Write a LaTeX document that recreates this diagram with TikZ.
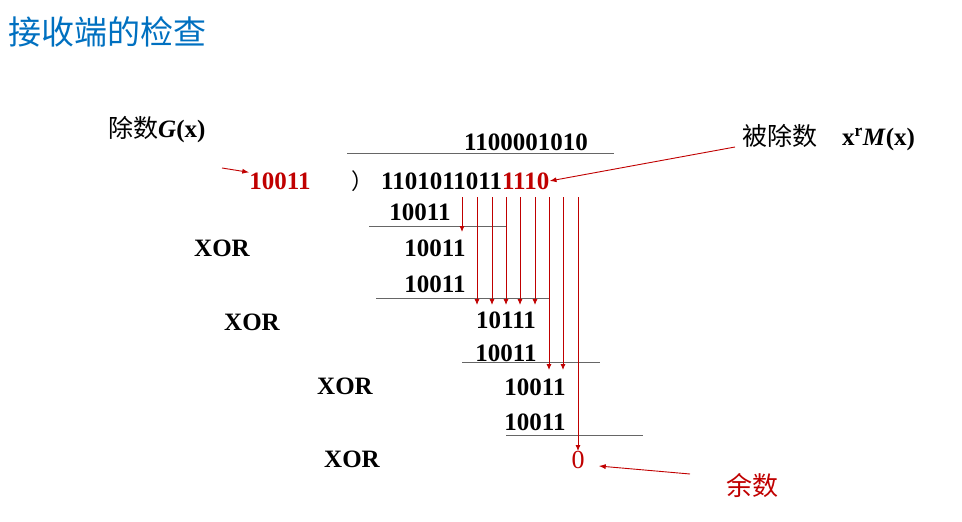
\documentclass[tikz,border=0pt]{standalone}
\usepackage{fontspec}
\setmainfont{Liberation Serif}
\newfontfamily\cjk{Noto Sans CJK SC}
\definecolor{dred}{RGB}{192,0,0}
\definecolor{tblue}{RGB}{0,112,192}
\begin{document}
\begin{tikzpicture}[x=1pt,y=-1pt,
  num/.style={font=\fontsize{25}{25}\selectfont\bfseries,inner sep=0pt},
  rule/.style={draw=gray!80!black,line width=1pt},
  drop/.style={draw=dred,line width=0.9pt,-{Latex[length=6pt,width=5pt]}},
  pt/.style={draw=dred,line width=0.9pt,-{Latex[length=7pt,width=5pt]}}]
\usetikzlibrary{arrows.meta}
\useasboundingbox (0,0) rectangle (962,522);
\node[anchor=west,inner sep=0pt,text=tblue,font=\cjk\fontsize{33}{33}\selectfont] (title) at (8,32) {接收端的检查};
\node[anchor=west,inner sep=0pt,font=\fontsize{25}{25}\selectfont] (g) at (108,130) {{\cjk 除数}\textbf{\textit{G}(x)}};
\node[num,text=dred] (div) at (280,181) {10011};
\node[inner sep=0pt,font=\cjk\fontsize{22}{22}\selectfont] (par) at (362,181) {）};
\node[num,anchor=east] (q) at (588,142) {1100001010};
\node[num,anchor=west] (d) at (381,181) {1101011011\textcolor{dred}{1110}};
\node[num] (r1) at (420,212) {10011};
\node[num] (r2) at (435,248) {10011};
\node[num] (r3) at (435,284) {10011};
\node[num] (r4) at (506,320) {10111};
\node[num] (r5) at (506,353) {10011};
\node[num] (r6) at (535,387) {10011};
\node[num] (r7) at (535,422) {10011};
\node[inner sep=0pt,text=dred,font=\fontsize{26}{26}\selectfont] (rem) at (578,460) {0};
\foreach \n/\x/\y in {x1/222/248,x2/252/322,x3/345/386,x4/352/459}
  \node[num] (\n) at (\x,\y) {XOR};
\node[anchor=west,inner sep=0pt,font=\fontsize{25}{25}\selectfont] (bd) at (742,138) {{\cjk 被除数}\quad\textbf{x\textsuperscript{r}\textit{M}(x)}};
\node[inner sep=0pt,text=dred,font=\cjk\fontsize{26}{26}\selectfont] (ys) at (752,486) {余数};
% rules
\draw[rule] (347,153) -- (614,153);
\draw[rule] (369,226) -- (506,226);
\draw[rule] (376,298) -- (549,298);
\draw[rule] (462,362) -- (600,362);
\draw[rule] (506,435) -- (643,435);
% drops
\coordinate (t0) at (462,197);
\draw[drop] (462,197) -- (462,232);
\foreach \x in {477,492,506,520,535} \draw[drop] (\x,197) -- (\x,305);
\foreach \x in {549,563} \draw[drop] (\x,197) -- (\x,370);
\draw[drop] (578,197) -- (rem.north);
% pointers
\coordinate (ga) at (222,168);
\draw[pt] (ga) -- (div.north west);
\coordinate (ba) at (735,147);
\draw[pt] (ba) -- (d.east);
\coordinate (ya) at (690,474);
\draw[pt] (ya) -- ([xshift=14pt,yshift=-6pt]rem.east);
\end{tikzpicture}
\end{document}
